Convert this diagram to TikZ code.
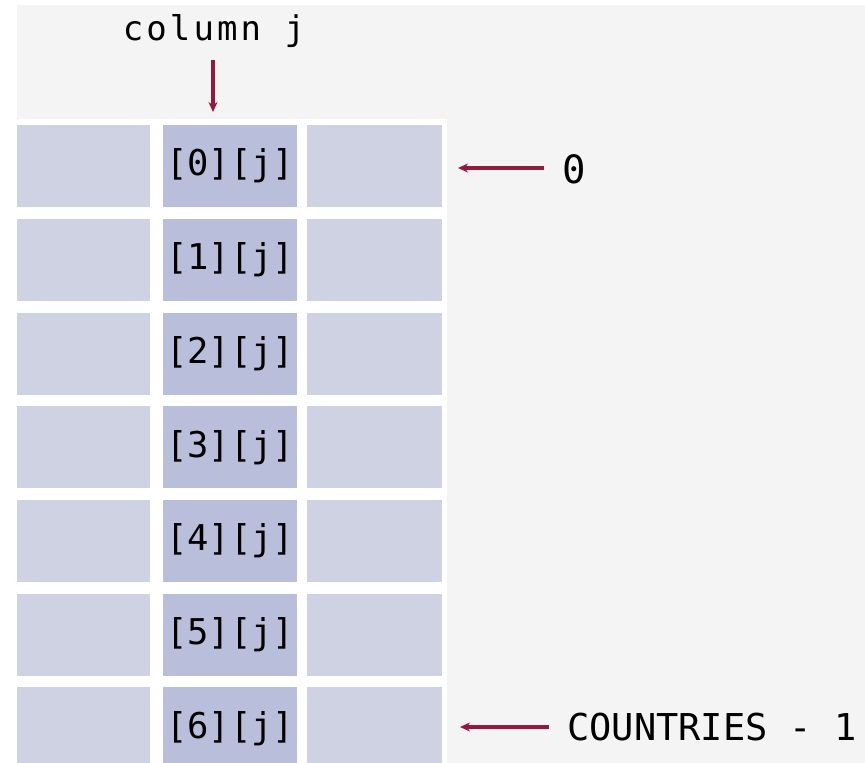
\documentclass[tikz,border=0pt]{standalone}
\usepackage{fontspec}
\usetikzlibrary{arrows.meta}
\newfontfamily\cellfont{DejaVu Sans Mono}
\newfontfamily\headfont[LetterSpace=9]{DejaVu Sans Mono}
\newfontfamily\labfont{DejaVu Sans Mono}
\definecolor{bggray}{RGB}{244,244,244}
\definecolor{cellL}{RGB}{206,210,226}
\definecolor{cellM}{RGB}{185,191,219}
\definecolor{arrowred}{RGB}{150,24,62}
\tikzset{
  sidecell/.style={fill=cellL, draw=none, inner sep=0pt, minimum height=82pt, anchor=north west},
  midcell/.style={fill=cellM, draw=none, inner sep=0pt, minimum width=134pt, minimum height=82pt, anchor=north west,
                  font=\cellfont\fontsize{35.5}{42}\selectfont, text=black},
  lbl/.style={inner sep=0pt, text=black},
  pointer/.style={draw=arrowred, line width=3.2pt, -{Stealth[length=10pt,width=9pt]}}
}
\begin{document}
\begin{tikzpicture}[x=1pt,y=-1pt]
\useasboundingbox (0,0) rectangle (865,763);
\fill[white] (0,0) rectangle (865,763);
\fill[bggray] (17,5) rectangle (865,763);
\fill[white] (17,119) rectangle (447,763);
\begin{scope}
\clip (0,0) rectangle (865,763);
\foreach \i in {0,...,6} {
  \pgfmathsetmacro\t{125+93.67*\i}
  \node[sidecell, minimum width=133pt] (l\i) at (17,\t) {};
  \node[midcell] (m\i) at (163,\t) {[\i][j]};
  \node[sidecell, minimum width=135pt] (r\i) at (307,\t) {};
}
\end{scope}
\node[lbl, anchor=base, font=\headfont\fontsize{34}{40}\selectfont] (colj) at (214,40) {column j};
\node[lbl, anchor=base west, font=\labfont\fontsize{39}{46}\selectfont] (zero) at (562,183) {0};
\node[lbl, anchor=base west, font=\labfont\fontsize{37}{44}\selectfont] (last) at (567,740) {COUNTRIES - 1};
\coordinate (colarrow) at (213,60);
\draw[pointer] (colarrow) -- (213,112);
\coordinate (zerotip) at (458,168);
\draw[pointer] (zero.west |- zerotip) ++(-18,0) -- (zerotip);
\coordinate (lasttip) at (460,727);
\draw[pointer] (last.west |- lasttip) ++(-18,0) -- (lasttip);
\end{tikzpicture}
\end{document}
